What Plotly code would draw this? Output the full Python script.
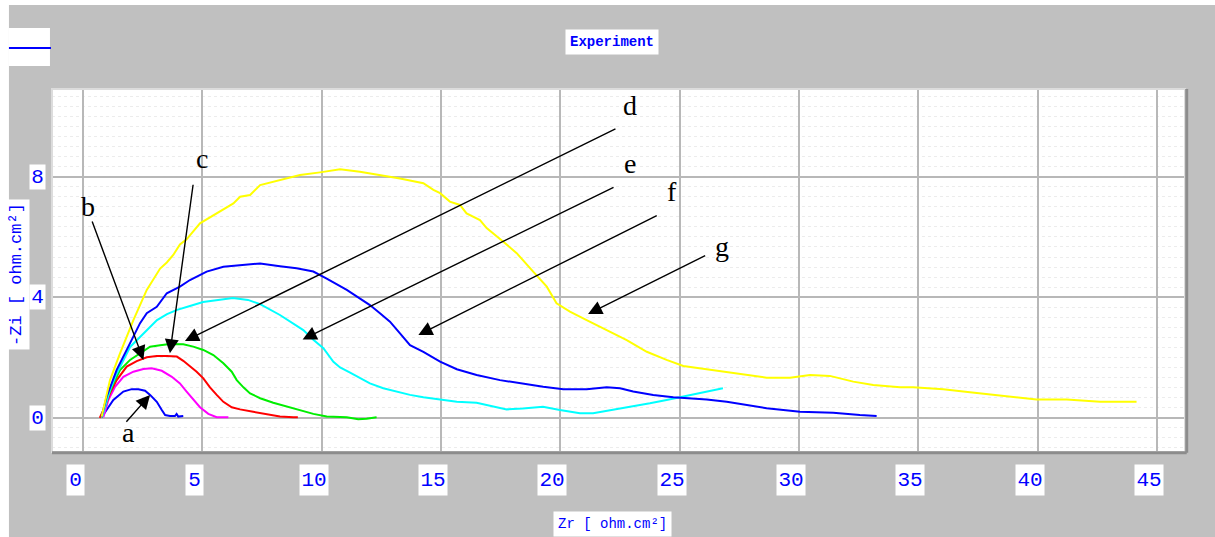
import plotly.graph_objects as go

# Nyquist impedance spectra (Zr vs -Zi, ohm.cm2)
a_x = [0.78, 1.27, 1.69, 2.04, 2.32, 2.60, 2.81, 3.09, 3.30, 3.44, 3.64, 3.85, 3.92, 3.99, 4.20]
a_y = [0.02, 0.59, 0.87, 0.95, 0.95, 0.90, 0.76, 0.53, 0.26, 0.09, 0.06, 0.06, 0.13, 0.04, 0.06]

b_x = [0.85, 1.06, 1.34, 1.69, 2.11, 2.53, 2.88, 3.30, 3.72, 4.06, 4.34, 4.62, 4.90, 5.25, 5.60, 6.09]
b_y = [0.02, 0.59, 1.03, 1.36, 1.53, 1.62, 1.64, 1.56, 1.36, 1.14, 0.87, 0.59, 0.35, 0.13, 0.02, 0.02]

c_x = [0.70, 0.92, 1.13, 1.41, 1.83, 2.25, 2.67, 3.09, 3.51, 3.93, 4.20, 4.48, 4.76, 5.04, 5.32,
       5.60, 5.88, 6.23, 6.58, 7.13, 7.69, 8.25, 8.81, 9.00]
c_y = [0.00, 0.37, 0.81, 1.25, 1.70, 1.88, 2.01, 2.05, 2.05, 2.03, 1.89, 1.72, 1.53, 1.31, 1.01,
       0.76, 0.53, 0.35, 0.28, 0.20, 0.13, 0.04, 0.02, 0.02]

d_x = [0.78, 0.99, 1.27, 1.55, 1.97, 2.39, 2.81, 3.23, 3.64, 4.20, 4.62, 5.04, 5.46, 5.88, 6.23,
       6.44, 6.72, 7.00, 7.42, 7.97, 8.53, 9.09, 9.65, 10.21, 11.05, 11.53, 11.88, 12.30]
d_y = [0.02, 0.59, 1.14, 1.58, 1.92, 2.14, 2.36, 2.41, 2.45, 2.44, 2.36, 2.25, 2.08, 1.81, 1.53,
       1.25, 1.01, 0.81, 0.65, 0.50, 0.37, 0.26, 0.13, 0.04, 0.02, -0.05, -0.03, 0.02]

e_x = [0.80, 1.13, 1.38, 1.68, 1.97, 2.39, 2.81, 3.10, 3.52, 3.94, 4.48, 5.03, 5.66, 6.28, 6.91,
       7.42, 8.25, 8.67, 9.23, 9.65, 10.07, 10.49, 10.77, 11.19, 11.60, 12.02, 12.58, 13.14, 13.70,
       14.26, 14.82, 15.66, 16.49, 17.33, 17.75, 18.43, 19.27, 19.98, 20.82, 21.37, 22.20, 23.04,
       23.75, 24.45, 25.14, 25.85, 26.81]
e_y = [0.03, 0.92, 1.42, 1.92, 2.35, 2.68, 3.01, 3.24, 3.44, 3.58, 3.71, 3.84, 3.91, 3.97, 3.91,
       3.77, 3.41, 3.19, 2.91, 2.59, 2.31, 1.86, 1.67, 1.50, 1.31, 1.14, 0.98, 0.87, 0.76,
       0.68, 0.61, 0.53, 0.50, 0.37, 0.28, 0.31, 0.37, 0.26, 0.15, 0.15, 0.26, 0.37,
       0.48, 0.59, 0.70, 0.81, 0.98]

f_x = [0.78, 0.99, 1.41, 1.83, 2.11, 2.39, 2.67, 3.09, 3.51, 4.06, 4.48, 5.18, 5.88, 6.58, 7.42,
       8.25, 8.95, 9.65, 10.21, 11.05, 12.02, 12.44, 12.86, 13.28, 13.70, 14.26, 14.96, 15.66,
       16.49, 17.47, 18.31, 19.28, 20.12, 21.10, 21.94, 22.50, 23.05, 23.89, 24.73, 25.43, 26.13,
       26.97, 27.80, 28.64, 30.04, 31.43, 32.55, 33.25]
f_y = [0.04, 0.70, 1.59, 2.25, 2.69, 3.14, 3.47, 3.68, 4.13, 4.35, 4.57, 4.85, 5.01, 5.07, 5.12,
       5.03, 4.96, 4.85, 4.62, 4.24, 3.74, 3.47, 3.19, 2.80, 2.41, 2.19, 1.86, 1.61,
       1.42, 1.25, 1.14, 1.03, 0.95, 0.95, 1.01, 0.98, 0.87, 0.76, 0.68, 0.65, 0.61,
       0.53, 0.42, 0.32, 0.20, 0.17, 0.09, 0.06]

g_x = [0.78, 1.13, 1.55, 2.11, 2.67, 3.23, 3.51, 3.78, 4.06, 4.34, 4.90, 5.74, 6.30, 6.58, 7.00,
       7.42, 8.25, 9.09, 9.93, 10.77, 11.60, 12.44, 13.28, 14.26, 14.68, 14.96, 15.37, 15.79,
       16.07, 16.63, 16.91, 17.61, 18.17, 18.86, 19.43, 19.84, 20.40, 21.10, 21.94, 22.78, 23.62,
       24.45, 25.15, 26.13, 26.97, 27.80, 28.64, 29.62, 30.46, 31.29, 32.27, 33.11, 34.23, 34.78,
       36.04, 37.16, 38.00, 38.97, 39.95, 41.21, 42.61, 44.14]
g_y = [0.04, 1.25, 2.14, 3.24, 4.24, 4.95, 5.15, 5.40, 5.75, 5.92, 6.45, 6.84, 7.11, 7.33, 7.39,
       7.72, 7.89, 8.05, 8.14, 8.24, 8.16, 8.05, 7.94, 7.78, 7.56, 7.45, 7.17, 7.06,
       6.78, 6.56, 6.29, 5.84, 5.46, 4.85, 4.35, 3.80, 3.52, 3.24, 2.91, 2.58, 2.19,
       1.92, 1.72, 1.61, 1.50, 1.42, 1.33, 1.33, 1.42, 1.39, 1.20, 1.09, 1.01, 1.01,
       0.95, 0.85, 0.78, 0.70, 0.61, 0.61, 0.53, 0.53]

series = [
    ("a", a_x, a_y, "#0000ff"),
    ("b", b_x, b_y, "#ff00ff"),
    ("c", c_x, c_y, "#ff0000"),
    ("d", d_x, d_y, "#00ee00"),
    ("e", e_x, e_y, "#00ffff"),
    ("f", f_x, f_y, "#0000ff"),
    ("g", g_x, g_y, "#ffff00"),
]

# curve labels: (label, label x, label y, arrow tail x, tail y, arrow tip x, tip y)
callouts = [
    ("a", 1.90, -0.50, 1.76, -0.18, 2.81, 0.76),
    ("b", 0.22, 7.00, 0.36, 6.56, 2.53, 1.92),
    ("c", 4.97, 8.61, 4.62, 7.78, 3.64, 2.14),
    ("d", 22.90, 10.37, 22.37, 9.61, 4.27, 2.55),
    ("e", 22.92, 8.45, 22.29, 7.67, 9.20, 2.60),
    ("f", 24.66, 7.50, 24.10, 6.73, 14.05, 2.75),
    ("g", 26.76, 5.67, 26.13, 5.40, 21.16, 3.44),
]

x_ticks = [0, 5, 10, 15, 20, 25, 30, 35, 40, 45]
y_ticks = [0, 4, 8]
title_text = "Experiment"
x_title = "Zr [ ohm.cm²]"
y_title = "-Zi [ ohm.cm²]"

BLUE = "#0000ff"
MONO = "Liberation Mono, DejaVu Sans Mono, monospace"
NARROW = "Liberation Sans Narrow, Liberation Mono, monospace"

fig = go.Figure()
for name, xs, ys, col in series:
    fig.add_trace(go.Scatter(x=xs, y=ys, mode="lines", name=name,
                             line=dict(color=col, width=2), showlegend=False))

annotations = []
for lab, lx, ly, tx, ty, hx, hy in callouts:
    annotations.append(dict(x=hx, y=hy, ax=tx, ay=ty, xref="x", yref="y", axref="x", ayref="y",
                            text="", showarrow=True, arrowhead=2, arrowsize=2.0, arrowwidth=1.4,
                            arrowcolor="black", standoff=0, startstandoff=0))
    annotations.append(dict(x=lx, y=ly, xref="x", yref="y", text=lab, showarrow=False,
                            xanchor="center", yanchor="middle",
                            font=dict(family="Liberation Serif, Times New Roman, serif",
                                      size=28, color="black")))

for t in x_ticks:
    lbl = str(t)
    annotations.append(dict(x=t, y=-0.077, xref="x", yref="paper", text=lbl, showarrow=False,
                            xanchor="center", yanchor="middle", xshift=-8,
                            width=11 * len(lbl) + 2, height=26, borderpad=2,
                            bgcolor="white", font=dict(family=NARROW, size=21, color=BLUE)))
for t in y_ticks:
    lbl = str(t)
    annotations.append(dict(x=-0.0124, y=t, xref="paper", yref="y", text=lbl, showarrow=False,
                            xanchor="center", yanchor="middle",
                            width=11 * len(lbl) + 2, height=22, borderpad=1,
                            bgcolor="white", font=dict(family=NARROW, size=21, color=BLUE)))

annotations.append(dict(x=0.4943, y=1.1295, xref="paper", yref="paper", text="<b>" + title_text + "</b>",
                        xanchor="center", yanchor="middle",
                        showarrow=False, bgcolor="white", borderpad=4,
                        font=dict(family=MONO, size=14, color=BLUE)))
annotations.append(dict(x=0.4943, y=-0.198, xref="paper", yref="paper", text=x_title,
                        xanchor="center", yanchor="middle",
                        showarrow=False, bgcolor="white", borderpad=4,
                        font=dict(family=MONO, size=14, color=BLUE)))
annotations.append(dict(x=-0.0309, y=0.4904, xref="paper", yref="paper", text=y_title,
                        xanchor="center", yanchor="middle",
                        textangle=-90, showarrow=False, bgcolor="white", borderpad=3,
                        font=dict(family=MONO, size=17, color=BLUE)))

shapes = [
    # white page strips outside the grey window
    dict(type="rect", xref="paper", yref="paper", x0=-0.06, x1=-0.038, y0=-0.3, y1=1.3,
         fillcolor="white", line=dict(width=0), layer="below"),
    dict(type="rect", xref="paper", yref="paper", x0=-0.06, x1=1.06, y0=1.2314, y1=1.3,
         fillcolor="white", line=dict(width=0), layer="below"),
    # legend swatch box
    dict(type="rect", xref="paper", yref="paper", x0=-0.038, x1=-0.0018, y0=1.0634, y1=1.168,
         fillcolor="white", line=dict(width=0), layer="below"),
    dict(type="line", xref="paper", yref="paper", x0=-0.038, x1=-0.0009, y0=1.1129, y1=1.1129,
         line=dict(color=BLUE, width=2)),
    # panel frame with shadow
    dict(type="rect", xref="paper", yref="paper", x0=0, x1=1, y0=0, y1=1,
         line=dict(color="#dcdcdc", width=2)),
    dict(type="line", xref="paper", yref="paper", x0=0, x1=1.0015, y0=-0.002, y1=-0.002,
         line=dict(color="#8c8c8c", width=3)),
    dict(type="line", xref="paper", yref="paper", x0=1.0015, x1=1.0015, y0=-0.002, y1=1,
         line=dict(color="#8c8c8c", width=3)),
]

fig.update_layout(
    width=1215, height=537, autosize=False,
    margin=dict(l=52, r=30, t=89, b=85),
    paper_bgcolor="#c0c0c0", plot_bgcolor="white",
    showlegend=False,
    annotations=annotations,
    shapes=shapes,
    xaxis=dict(range=[-1.30, 46.17], tickmode="array", tickvals=x_ticks, showticklabels=False,
               ticks="", showgrid=True, gridcolor="#b8b8b8", gridwidth=2, zeroline=False,
               showline=False, fixedrange=True),
    yaxis=dict(range=[-1.134, 10.905], tickmode="array", tickvals=y_ticks, showticklabels=False,
               ticks="", showgrid=True, gridcolor="#b8b8b8", gridwidth=2, zeroline=False,
               showline=False, fixedrange=True,
               minor=dict(tickmode="linear", tick0=0, dtick=1 / 3, showgrid=True,
                          gridcolor="#ececec", griddash="dot", gridwidth=1)),
)

fig.write_html("out.html")
